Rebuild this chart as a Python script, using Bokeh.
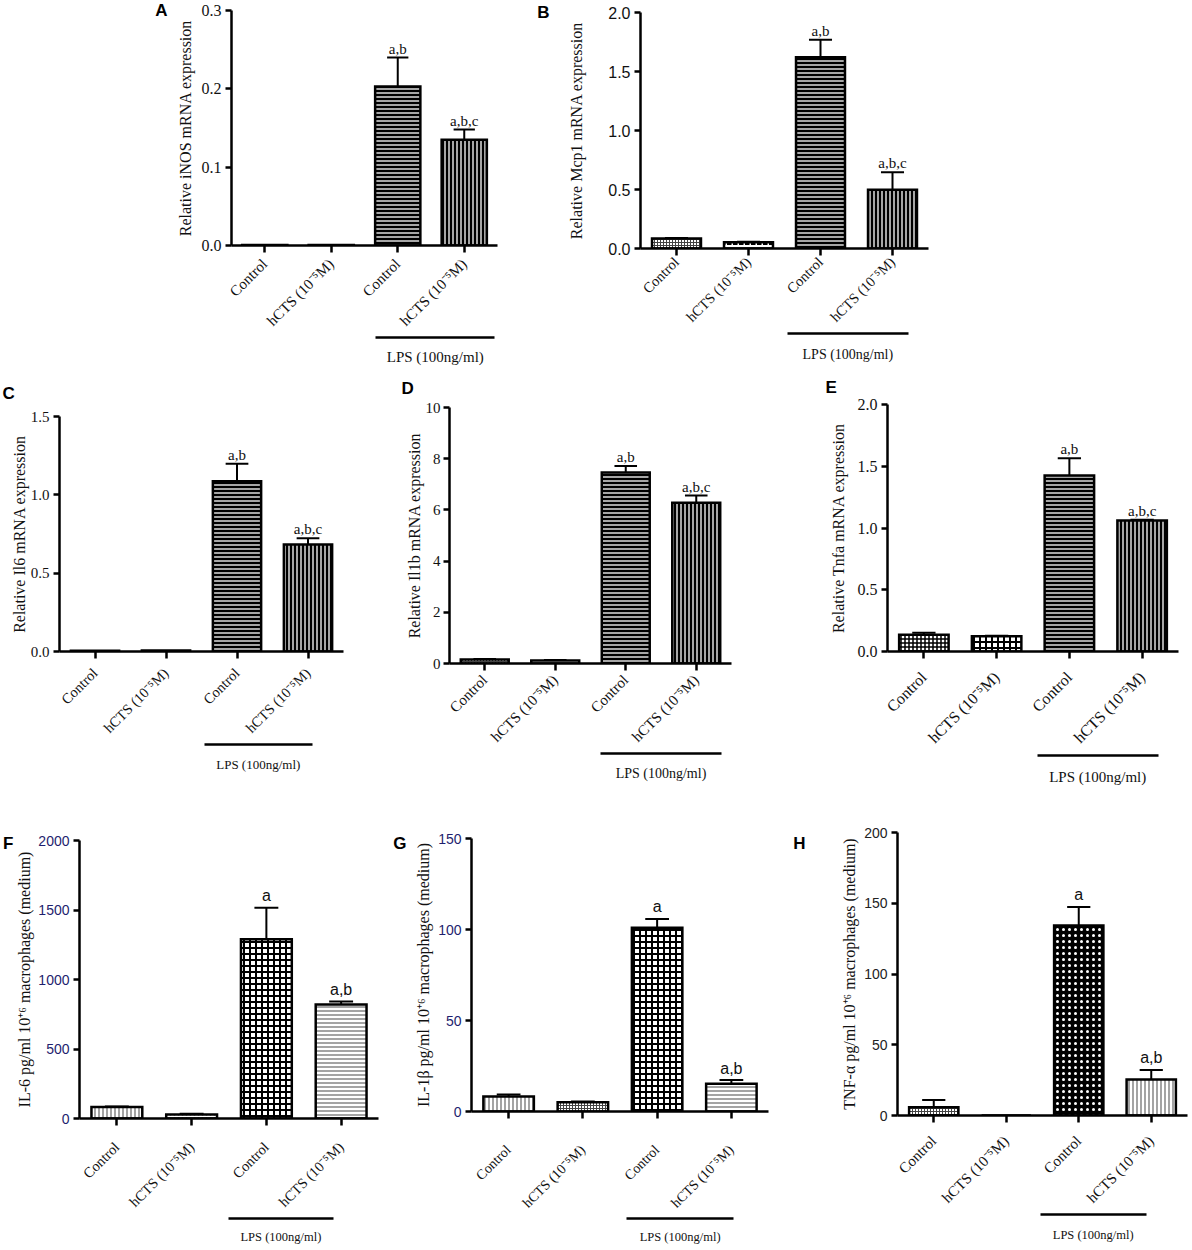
import math
from bokeh.plotting import figure
from bokeh.models import (Range1d, LinearAxis, FixedTicker, PrintfTickFormatter,
                          ColumnDataSource, Title)
from bokeh.layouts import row, column
from bokeh.embed import file_html
from bokeh.resources import INLINE
from bokeh.core.properties import value

# ------------------------------------------------------------------ data
groups = ["Control", "hCTS (10\u207b\u2075M)", "Control", "hCTS (10\u207b\u2075M)"]
lps_text = "LPS (100ng/ml)"

inos_mean = [0.0005, 0.0005, 0.203, 0.135]
inos_sem = [0.0, 0.0, 0.037, 0.013]
inos_sig = ["", "", "a,b", "a,b,c"]
inos_ticks = [0.0, 0.1, 0.2, 0.3]

mcp1_mean = [0.085, 0.053, 1.62, 0.497]
mcp1_sem = [0.005, 0.005, 0.15, 0.15]
mcp1_sig = ["", "", "a,b", "a,b,c"]
mcp1_ticks = [0.0, 0.5, 1.0, 1.5, 2.0]

il6_mean = [0.005, 0.006, 1.087, 0.683]
il6_sem = [0.0, 0.0, 0.111, 0.04]
il6_sig = ["", "", "a,b", "a,b,c"]
il6_ticks = [0.0, 0.5, 1.0, 1.5]

il1b_mean = [0.16, 0.12, 7.46, 6.28]
il1b_sem = [0.02, 0.02, 0.25, 0.28]
il1b_sig = ["", "", "a,b", "a,b,c"]
il1b_ticks = [0, 2, 4, 6, 8, 10]

tnfa_mean = [0.135, 0.124, 1.425, 1.061]
tnfa_sem = [0.016, 0.004, 0.14, 0.006]
tnfa_sig = ["", "", "a,b", "a,b,c"]
tnfa_ticks = [0.0, 0.5, 1.0, 1.5, 2.0]

il6_prot_mean = [82, 29, 1289, 820]
il6_prot_sem = [4, 6, 228, 22]
il6_prot_sig = ["", "", "a", "a,b"]
il6_prot_ticks = [0, 500, 1000, 1500, 2000]

il1b_prot_mean = [8.2, 5.1, 100.9, 15.2]
il1b_prot_sem = [1.1, 0.4, 4.9, 2.1]
il1b_prot_sig = ["", "", "a", "a,b"]
il1b_prot_ticks = [0, 50, 100, 150]

tnfa_prot_mean = [5.9, 0.0, 134.3, 25.4]
tnfa_prot_sem = [5.1, 0.0, 13.1, 6.8]
tnfa_prot_sig = ["", "", "a", "a,b"]
tnfa_prot_ticks = [0, 50, 100, 150, 200]

# ------------------------------------------------------------------ styles
SERIF = "Liberation Serif"
SANS = "Liberation Sans"

HDARK = dict(fill="#a6a6a6", pat="horizontal_line", hc="black", hs=4, hw=2)
VDARK = dict(fill="#a6a6a6", pat="vertical_line", hc="black", hs=4, hw=2)
FINE = dict(fill="white", pat="cross", hc="#444444", hs=3, hw=1)
DASH = dict(fill="white", pat="horizontal_dash", hc="black", hs=6, hw=2)
CHECK = dict(fill="white", pat="cross", hc="black", hs=6, hw=2)
CHECK_S = dict(fill="white", pat="cross", hc="black", hs=4, hw=1.5)
VLIGHT = dict(fill="white", pat="vertical_line", hc="#666666", hs=4, hw=1.2)
HLIGHT = dict(fill="white", pat="horizontal_line", hc="#666666", hs=4, hw=1.2)
DOTS = dict(fill="white", pat="dot", hc="#333333", hs=4, hw=2)
BDOTS = dict(fill="black", pat="dot", hc="white", hs=6, hw=3)


def make_panel(letter, ylabel, mean, sem, sig, yticks, yfmt, styles, geo, look):
    fx0, fy0, W, H = geo["fig"]
    L, R, T, B = geo["frame"]
    ymax = yticks[-1]
    p = figure(width=W, height=H, x_range=Range1d(-0.5, 3.5), y_range=Range1d(0, ymax),
               x_axis_type=None, y_axis_type=None, output_backend="svg",
               toolbar_location=None, frame_align=False,
               min_border_left=L - fx0, min_border_right=fx0 + W - R,
               min_border_top=T - fy0, min_border_bottom=fy0 + H - B,
               background_fill_color="white", border_fill_color="white",
               outline_line_color=None)

    # y axis
    yax = LinearAxis(ticker=FixedTicker(ticks=yticks),
                     formatter=PrintfTickFormatter(format=yfmt),
                     axis_label=ylabel)
    yax.axis_line_width = 2.5
    yax.major_tick_line_width = 2.5
    yax.major_tick_in = 0
    yax.major_tick_out = 6
    yax.major_label_standoff = look.get("ytick_standoff", 4)
    yax.major_label_text_font = look["ytick_font"]
    yax.major_label_text_font_size = look["ytick_size"]
    yax.major_label_text_color = look.get("ytick_color", "#111111")
    yax.axis_label_text_font = SERIF
    yax.axis_label_text_font_size = "16px"
    yax.axis_label_text_font_style = "normal"
    yax.axis_label_text_color = "#111111"
    yax.axis_label_standoff = look["ylab_standoff"]
    p.add_layout(yax, "left")

    # panel letter
    fh = B - T
    if geo["letter_mode"] == "axis":
        ly = round(ymax - geo["letter_dy"] / fh * ymax, 4)
        lax_letter = LinearAxis(ticker=FixedTicker(ticks=[ly]),
                                major_label_overrides={ly: letter})
        lax_letter.axis_line_color = None
        lax_letter.major_tick_line_color = None
        lax_letter.major_tick_out = 0
        lax_letter.major_tick_in = 0
        lax_letter.major_label_standoff = geo["letter_standoff"]
        lax_letter.major_label_text_font = SANS
        lax_letter.major_label_text_font_style = "bold"
        lax_letter.major_label_text_font_size = "17px"
        lax_letter.major_label_text_color = "black"
        p.add_layout(lax_letter, "left")
    else:
        p.add_layout(Title(text=letter, align="left", offset=geo["letter_offset"],
                           standoff=geo["letter_standoff"], vertical_align="top",
                           text_font=SANS, text_font_style="bold",
                           text_font_size="17px", text_color="black"), "above")

    # x axis with group labels
    xax = LinearAxis(ticker=FixedTicker(ticks=[0, 1, 2, 3]),
                     major_label_overrides={i: g for i, g in enumerate(groups)},
                     major_label_orientation=math.pi / 4)
    xax.axis_line_width = 2.5
    xax.major_tick_line_width = 2.5
    xax.major_tick_in = 0
    xax.major_tick_out = 7
    xax.major_label_standoff = look["xtick_standoff"]
    xax.major_label_text_font = SERIF
    xax.major_label_text_font_size = look["xtick_size"]
    xax.major_label_text_color = "#111111"
    p.add_layout(xax, "below")

    # LPS treatment bar as a bounded axis under the group labels
    l0, l1 = geo["lps"]
    mid = round((l0 + l1) / 2.0, 3)
    lax = LinearAxis(ticker=FixedTicker(ticks=[mid]), bounds=(l0, l1),
                     major_label_overrides={mid: lps_text})
    lax.axis_line_width = 2.5
    lax.major_tick_out = 0
    lax.major_tick_in = 0
    lax.major_label_standoff = look["lps_standoff"]
    lax.major_label_text_font = SERIF
    lax.major_label_text_font_size = look["lps_size"]
    lax.major_label_text_color = "#111111"
    p.add_layout(lax, "below")

    # bars
    src = ColumnDataSource(dict(
        x=[0, 1, 2, 3], top=list(mean),
        fill=[s["fill"] for s in styles], pat=[s["pat"] for s in styles],
        hc=[s["hc"] for s in styles], hs=[s["hs"] for s in styles],
        hw=[s["hw"] for s in styles]))
    p.vbar(x="x", top="top", bottom=0, width=0.68, source=src,
           fill_color="fill", hatch_pattern="pat", hatch_color="hc",
           hatch_scale="hs", hatch_weight="hw",
           line_color="black", line_width=2.5, line_join="miter")

    # error bars (upper only)
    ex = [i for i in range(4) if sem[i] > 0]
    ylo = [mean[i] for i in ex]
    yhi = [mean[i] + sem[i] for i in ex]
    p.segment(x0=ex, y0=ylo, x1=ex, y1=yhi, line_color="black", line_width=2)
    p.segment(x0=[x - 0.16 for x in ex], y0=yhi, x1=[x + 0.16 for x in ex], y1=yhi,
              line_color="black", line_width=2)

    # significance letters
    tx = [i for i in range(4) if sig[i]]
    p.text(x=tx, y=[mean[i] + sem[i] for i in tx], text=[sig[i] for i in tx],
           text_align="center", text_baseline="alphabetic",
           y_offset=-look["sig_gap"], text_font=value(look["sig_font"]),
           text_font_size=value(look["sig_size"]), text_color="#111111")
    return p


serif_look = dict(ytick_font=SERIF, ytick_size="16px", sig_font=SERIF, sig_size="15px",
                  sig_gap=9)
prot_look = dict(ytick_font=SANS, ytick_size="14px", ytick_color="#1e1e6e",
                 sig_font=SANS, sig_size="16px", sig_gap=12)

R1, R2, R3 = 0, 368, 824          # row tops
H1, H2, H3 = 368, 456, 424        # row heights

pA = make_panel("A", "Relative iNOS mRNA expression", inos_mean, inos_sem, inos_sig,
                inos_ticks, "%.1f", [FINE, DASH, HDARK, VDARK],
                dict(fig=(0, R1, 505, H1), frame=(231, 497, 10, 245),
                     lps=(1.67, 3.46), letter_mode="axis", letter_dy=0,
                     letter_standoff=6),
                dict(serif_look, xtick_size="15px", ylab_standoff=5, lps_size="15px",
                     xtick_standoff=9, lps_standoff=11))
pB = make_panel("B", "Relative Mcp1 mRNA expression", mcp1_mean, mcp1_sem, mcp1_sig,
                mcp1_ticks, "%.1f", [FINE, DASH, HDARK, VDARK],
                dict(fig=(505, R1, 685, H1), frame=(640, 928, 12, 248),
                     lps=(1.54, 3.22), letter_mode="axis", letter_dy=0,
                     letter_standoff=16),
                dict(serif_look, ytick_font=SANS, xtick_size="14.5px", ylab_standoff=20,
                     lps_size="14px", xtick_standoff=4, lps_standoff=13))
pC = make_panel("C", "Relative Il6 mRNA expression", il6_mean, il6_sem, il6_sig,
                il6_ticks, "%.1f", [FINE, DASH, HDARK, VDARK],
                dict(fig=(0, R2, 388, H2), frame=(59, 343, 416, 651),
                     lps=(1.54, 3.06), letter_mode="title", letter_offset=-57,
                     letter_standoff=24),
                dict(serif_look, ytick_size="15px", xtick_size="14.5px", ylab_standoff=0,
                     lps_size="13px", xtick_standoff=12, lps_standoff=12))
pD = make_panel("D", "Relative Il1b mRNA expression", il1b_mean, il1b_sem, il1b_sig,
                il1b_ticks, "%d", [FINE, DASH, HDARK, VDARK],
                dict(fig=(388, R2, 402, H2), frame=(449, 731, 407, 663),
                     lps=(1.64, 3.36), letter_mode="title", letter_offset=-48,
                     letter_standoff=15),
                dict(serif_look, ytick_size="15px", xtick_size="15px", ylab_standoff=0,
                     ytick_standoff=3, lps_size="14px", xtick_standoff=7, lps_standoff=12))
pE = make_panel("E", "Relative Tnfa mRNA expression", tnfa_mean, tnfa_sem, tnfa_sig,
                tnfa_ticks, "%.1f", [CHECK_S, CHECK, HDARK, VDARK],
                dict(fig=(790, R2, 400, H2), frame=(887, 1178, 404, 651),
                     lps=(1.56, 3.22), letter_mode="title", letter_offset=-62,
                     letter_standoff=12),
                dict(serif_look, xtick_size="16px", ylab_standoff=8, lps_size="15px",
                     xtick_standoff=16, lps_standoff=13))
pF = make_panel("F", "IL-6 pg/ml 10\u207a\u2076 macrophages (medium)", il6_prot_mean,
                il6_prot_sem, il6_prot_sig, il6_prot_ticks, "%d",
                [VLIGHT, DOTS, CHECK, HLIGHT],
                dict(fig=(0, R3, 390, H3), frame=(79, 378, 840, 1118),
                     lps=(1.49, 2.9), letter_mode="axis", letter_dy=3,
                     letter_standoff=0),
                dict(prot_look, xtick_size="14.5px", ylab_standoff=2, lps_size="12.5px",
                     xtick_standoff=19, lps_standoff=11))
pG = make_panel("G", "IL-1\u03b2 pg/ml 10\u207a\u2076 macrophages (medium)", il1b_prot_mean,
                il1b_prot_sem, il1b_prot_sig, il1b_prot_ticks, "%d",
                [VLIGHT, FINE, CHECK, HLIGHT],
                dict(fig=(390, R3, 400, H3), frame=(470, 768, 838, 1111),
                     lps=(1.59, 3.03), letter_mode="axis", letter_dy=5,
                     letter_standoff=6),
                dict(prot_look, xtick_size="14px", ylab_standoff=3, lps_size="12.5px",
                     xtick_standoff=29, lps_standoff=11))
pH = make_panel("H", "TNF-\u03b1 pg/ml 10\u207a\u2076 macrophages (medium)", tnfa_prot_mean,
                tnfa_prot_sem, tnfa_prot_sig, tnfa_prot_ticks, "%d",
                [FINE, DOTS, BDOTS, VLIGHT],
                dict(fig=(790, R3, 400, H3), frame=(892, 1187, 832, 1115),
                     lps=(1.47, 2.93), letter_mode="axis", letter_dy=11,
                     letter_standoff=33),
                dict(prot_look, ytick_color="#222222", xtick_size="15px", ylab_standoff=3,
                     lps_size="12.5px", xtick_standoff=16, lps_standoff=13))

layout = column(row(pA, pB), row(pC, pD, pE), row(pF, pG, pH))

with open("out.html", "w") as f:
    f.write(file_html(layout, INLINE))
